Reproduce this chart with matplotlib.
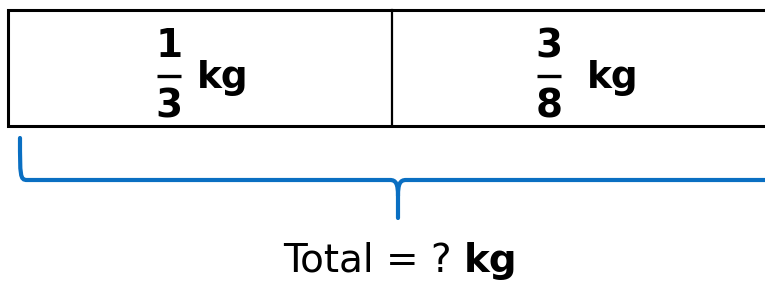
import matplotlib.pyplot as plt
from matplotlib.path import Path
from matplotlib.patches import PathPatch

# two parts of the bar model
numerators = ["1", "3"]
denominators = ["3", "8"]
unit = "kg"
total_label = "Total = ?"

W, H = 765, 282
fig = plt.figure(figsize=(W / 100, H / 100), dpi=100)
ax = fig.add_axes([0, 0, 1, 1])
ax.set_xlim(0, W)
ax.set_ylim(H, 0)
ax.axis("off")

blue = "#0a6fc2"
font = "DejaVu Sans"

# bar model box (right edge runs off the picture)
ax.plot([W + 5, 8, 8, W + 5], [10, 10, 126, 126], color="black", lw=2.2,
        solid_joinstyle="miter")
ax.plot([392, 392], [10, 126], color="black", lw=1.6)

# fractions in each cell
frac_x = [169, 549]
kg_x = [197, 587]
for i in range(2):
    fx = frac_x[i]
    ax.text(fx, 57, numerators[i], ha="center", va="baseline", fontsize=28,
            fontweight="bold", family=font)
    ax.plot([fx - 12, fx + 12], [76, 76], color="black", lw=2.4,
            solid_capstyle="butt")
    ax.text(fx, 118, denominators[i], ha="center", va="baseline", fontsize=28,
            fontweight="bold", family=font)
    ax.text(kg_x[i], 88, unit, ha="left", va="baseline", fontsize=27,
            fontweight="bold", family=font)

# curly bracket under the box
verts = [(20, 138), (20, 176), (20, 180), (27, 180),
         (390, 180), (396, 180), (398, 184), (398, 196), (398, 218)]
codes = [Path.MOVETO, Path.CURVE4, Path.CURVE4, Path.CURVE4,
         Path.LINETO, Path.CURVE4, Path.CURVE4, Path.CURVE4, Path.LINETO]
ax.add_patch(PathPatch(Path(verts, codes), fill=False, edgecolor=blue, lw=3,
                       capstyle="round"))
verts2 = [(W + 5, 180), (406, 180), (400, 180), (398, 184), (398, 196)]
codes2 = [Path.MOVETO, Path.LINETO, Path.CURVE4, Path.CURVE4, Path.CURVE4]
ax.add_patch(PathPatch(Path(verts2, codes2), fill=False, edgecolor=blue, lw=3))

# total label, centred under the bracket
t1 = ax.text(0, 272, total_label + " ", ha="left", va="baseline", fontsize=28,
             family=font)
t2 = ax.text(0, 272, unit, ha="left", va="baseline", fontsize=28,
             fontweight="bold", family=font)
fig.canvas.draw()
inv = ax.transData.inverted()
w1 = inv.transform(t1.get_window_extent())
w2 = inv.transform(t2.get_window_extent())
wid1 = w1[1][0] - w1[0][0]
wid2 = w2[1][0] - w2[0][0]
x0 = 400 - (wid1 + wid2) / 2
t1.set_x(x0)
t2.set_x(x0 + wid1)

fig.savefig("out.png", dpi=100)
